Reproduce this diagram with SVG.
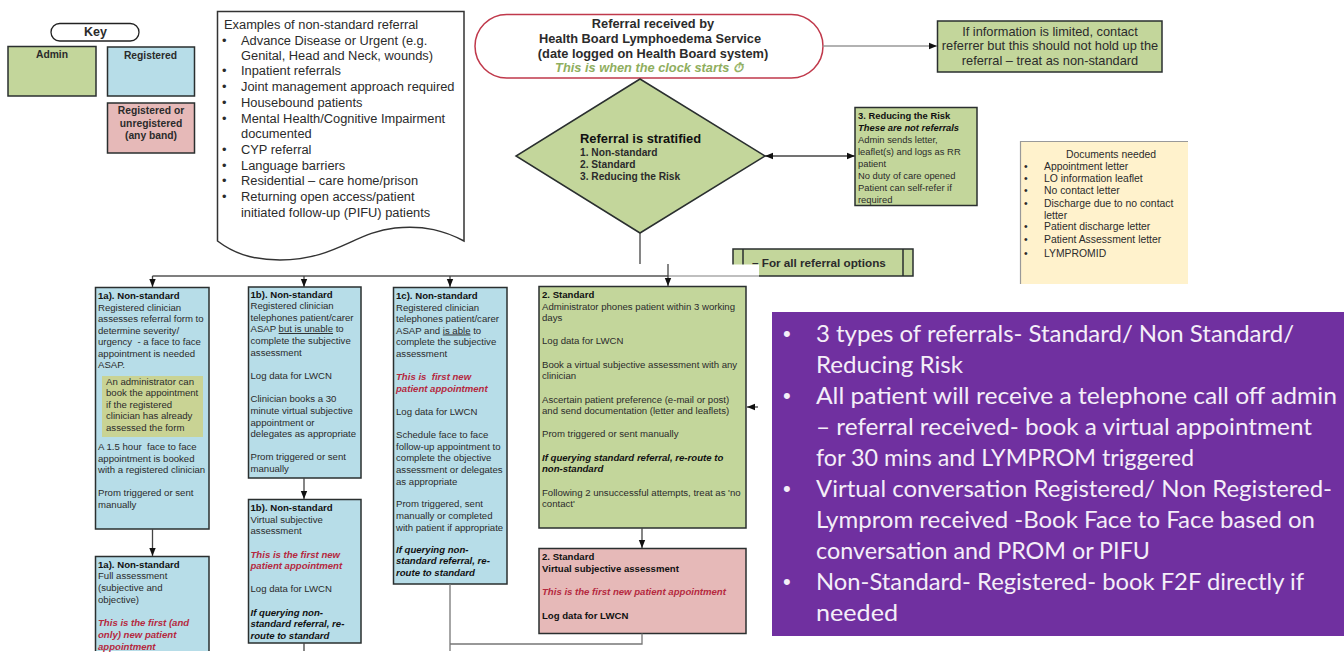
<svg xmlns="http://www.w3.org/2000/svg" width="1344" height="658" viewBox="0 0 1344 658">
<style>
text{font-family:"Liberation Sans",Arial,sans-serif;fill:#2b2b2b;white-space:pre}
.b{font-weight:700}.i{font-style:italic}.c{text-anchor:middle}
.box{stroke:#2a2f2f;stroke-width:1.5}
.gr{fill:#c3d69b}.bl{fill:#b7dde8}.pk{fill:#e6b9b8}
.s{font-size:9.6px}.red{fill:#b5293f;font-weight:700;font-style:italic}
.dk{fill:#111;font-weight:700}.bi{fill:#111;font-weight:700;font-style:italic}
.d{font-size:12.85px}
.k{font-size:10.3px;font-weight:700}
.t{font-size:12.8px;font-weight:700;text-anchor:middle}
.line{fill:none;stroke:#444;stroke-width:1.3}
.u{text-decoration:underline}
.p{font-family:Lato,"Open Sans",sans-serif;font-size:24px;fill:#f4eef8}
.pb{font-family:"Liberation Sans",sans-serif;font-size:22px;fill:#f4eef8}
</style>
<defs>
<marker id="a" markerUnits="userSpaceOnUse" viewBox="0 0 8 8" markerWidth="8" markerHeight="8" refX="8" refY="4" orient="auto-start-reverse"><path d="M0 0.8L8 4L0 7.2Z" fill="#111"/></marker>
</defs>
<rect width="1344" height="658" fill="#fff"/>

<g id="key">
<rect x="51" y="23.500" width="88" height="17.500" rx="8.700" fill="#fff" stroke="#222" stroke-width="1.300"/>
<text class="b c" x="95.500" y="36" font-size="12.500">Key</text>
</g>
<g id="key-admin"><rect class="box gr" x="8" y="46.500" width="88" height="49.500"/><text class="k c" x="52" y="58">Admin</text></g>
<g id="key-registered"><rect class="box bl" x="107.500" y="47" width="87" height="49"/><text class="k c" x="150.500" y="58.500">Registered</text></g>
<g id="key-any"><rect class="box pk" x="107.500" y="103" width="87" height="50"/>
<text class="k c" x="151" y="114">Registered or</text><text class="k c" x="151" y="126.500">unregistered</text><text class="k c" x="151" y="139">(any band)</text></g>

<g id="examples">
<path d="M217.500 11.500H464V241C445 231 425 225 395 228C355 232 335 260 280 260C250 260 232 252 217.500 241Z" fill="#fff" stroke="#333" stroke-width="1.500"/>
<text class="d" x="224" y="28.500">Examples of non-standard referral</text>
<text class="d" x="241" y="45">Advance Disease or Urgent (e.g.</text>
<text class="d" x="241" y="59.500">Genital, Head and Neck, wounds)</text>
<text class="d" x="241" y="75">Inpatient referrals</text>
<text class="d" x="241" y="91">Joint management approach required</text>
<text class="d" x="241" y="107">Housebound patients</text>
<text class="d" x="241" y="123">Mental Health/Cognitive Impairment</text>
<text class="d" x="241" y="137.500">documented</text>
<text class="d" x="241" y="154">CYP referral</text>
<text class="d" x="241" y="169.500">Language barriers</text>
<text class="d" x="241" y="185">Residential – care home/prison</text>
<text class="d" x="241" y="201">Returning open access/patient</text>
<text class="d" x="241" y="217">initiated follow-up (PIFU) patients</text>
<text class="d" x="222" y="45">•</text><text class="d" x="222" y="75">•</text><text class="d" x="222" y="91">•</text><text class="d" x="222" y="107">•</text><text class="d" x="222" y="123">•</text><text class="d" x="222" y="154">•</text><text class="d" x="222" y="169.500">•</text><text class="d" x="222" y="185">•</text><text class="d" x="222" y="201">•</text>
</g>

<g id="received">
<rect x="475" y="14.500" width="348" height="63.500" rx="31.700" fill="#fff" stroke="#c0394b" stroke-width="1.500"/>
<text class="t" x="653" y="28">Referral received by</text>
<text class="t" x="650" y="43">Health Board Lymphoedema Service</text>
<text class="t" x="653" y="58">(date logged on Health Board system)</text>
<text class="t i" x="649" y="72" style="fill:#8fae5e">This is when the clock starts ⏱</text>
</g>

<g id="stratified">
<path d="M640 79L765 156L640 233L516 156Z" fill="#c3d69b" stroke="#2a2f2f" stroke-width="1.500"/>
<text class="b" x="580" y="142.500" font-size="12.900" style="fill:#111">Referral is stratified</text>
<text class="b" x="580" y="155.500" font-size="10.200">1. Non-standard</text>
<text class="b" x="580" y="167.500" font-size="10.200">2. Standard</text>
<text class="b" x="580" y="179.500" font-size="10.200">3. Reducing the Risk</text>
</g>

<g id="limited">
<rect class="box gr" x="937.500" y="21" width="224.500" height="51"/>
<text class="c" x="1050" y="35.500" font-size="12.800">If information is limited, contact</text>
<text class="c" x="1050" y="50" font-size="12.800">referrer but this should not hold up the</text>
<text class="c" x="1050" y="65" font-size="12.800">referral – treat as non-standard</text>
</g>

<g id="reducing">
<rect class="box gr" x="855" y="107.500" width="122" height="98"/>
<g font-size="9.400">
<text x="858" y="118.500" class="dk">3. Reducing the Risk</text>
<text x="858" y="131" class="bi">These are not referrals</text>
<text x="858" y="143">Admin sends letter,</text>
<text x="858" y="155">leaflet(s) and logs as RR</text>
<text x="858" y="167">patient</text>
<text x="858" y="179">No duty of care opened</text>
<text x="858" y="191">Patient can self-refer if</text>
<text x="858" y="203">required</text>
</g></g>

<g id="documents">
<rect x="1020" y="141.500" width="168" height="142.500" fill="#fff2cc"/>
<path d="M1020.500 284V141.500H1188" fill="none" stroke="#999" stroke-width="1.200"/>
<g font-size="10.400">
<text class="c" x="1111" y="158">Documents needed</text>
<text x="1044" y="170">Appointment letter</text>
<text x="1044" y="182">LO information leaflet</text>
<text x="1044" y="194">No contact letter</text>
<text x="1044" y="207">Discharge due to no contact</text>
<text x="1044" y="218.500">letter</text>
<text x="1044" y="230">Patient discharge letter</text>
<text x="1044" y="243">Patient Assessment letter</text>
<text x="1044" y="257">LYMPROMID</text>
<text x="1024" y="170">•</text><text x="1024" y="182">•</text><text x="1024" y="194">•</text><text x="1024" y="207">•</text><text x="1024" y="230">•</text><text x="1024" y="243">•</text><text x="1024" y="257">•</text>
</g></g>

<g id="all-options">
<rect class="box gr" x="733" y="249" width="180" height="27"/>
<path d="M743 249V276M903 249V276" stroke="#2a2f2f" stroke-width="1.500"/>
<rect x="725" y="264.500" width="34" height="14" fill="#fff"/>
<text class="b" x="752" y="266.500" font-size="11.700">– For all referral options</text>
</g>

<g id="n1a">
<rect class="box bl" x="95.500" y="287.500" width="113.500" height="241.500"/>
<rect x="102" y="376" width="101" height="61" fill="#c9d394"/>
<g class="s">
<text x="98" y="299" class="dk">1a). Non-standard</text>
<text x="98" y="310.500">Registered clinician</text>
<text x="98" y="322">assesses referral form to</text>
<text x="98" y="333.500">determine severity/</text>
<text x="98" y="345">urgency  - a face to face</text>
<text x="98" y="356.500">appointment is needed</text>
<text x="98" y="368">ASAP.</text>
<text x="106" y="384.500">An administrator can</text>
<text x="106" y="396">book the appointment</text>
<text x="106" y="407.500">if the registered</text>
<text x="106" y="419">clinician has already</text>
<text x="106" y="431">assessed the form</text>
<text x="98" y="450">A 1.5 hour  face to face</text>
<text x="98" y="461.500">appointment is booked</text>
<text x="98" y="473">with a registered clinician</text>
<text x="98" y="496">Prom triggered or sent</text>
<text x="98" y="507.500">manually</text>
</g></g>

<g id="n1a2">
<path class="box bl" d="M95.500 651V556.500H209V651"/>
<g class="s">
<text x="98" y="567.500" class="dk">1a). Non-standard</text>
<text x="98" y="579">Full assessment</text>
<text x="98" y="591">(subjective and</text>
<text x="98" y="602.500">objective)</text>
<text x="98" y="626" class="red">This is the first (and</text>
<text x="98" y="638" class="red">only) new patient</text>
<text x="98" y="649.500" class="red">appointment</text>
</g></g>

<g id="n1b">
<rect class="box bl" x="248.500" y="287" width="112.500" height="191"/>
<g class="s">
<text x="250.500" y="297.500" class="dk">1b). Non-standard</text>
<text x="250.500" y="309">Registered clinician</text>
<text x="250.500" y="320.500">telephones patient/carer</text>
<text x="250.500" y="332">ASAP <tspan class="u">but is unable</tspan> to</text>
<text x="250.500" y="344">complete the subjective</text>
<text x="250.500" y="356">assessment</text>
<text x="250.500" y="379">Log data for LWCN</text>
<text x="250.500" y="402">Clinician books a 30</text>
<text x="250.500" y="414">minute virtual subjective</text>
<text x="250.500" y="426">appointment or</text>
<text x="250.500" y="437">delegates as appropriate</text>
<text x="250.500" y="460">Prom triggered or sent</text>
<text x="250.500" y="472">manually</text>
</g></g>

<g id="n1b2">
<rect class="box bl" x="248.500" y="499.500" width="112.500" height="143.500"/>
<g class="s">
<text x="250.500" y="511" class="dk">1b). Non-standard</text>
<text x="250.500" y="522.500">Virtual subjective</text>
<text x="250.500" y="534">assessment</text>
<text x="250.500" y="557.500" class="red">This is the first new</text>
<text x="250.500" y="569" class="red">patient appointment</text>
<text x="250.500" y="592">Log data for LWCN</text>
<text x="250.500" y="615.500" class="bi">If querying non-</text>
<text x="250.500" y="627" class="bi">standard referral, re-</text>
<text x="250.500" y="639" class="bi">route to standard</text>
</g></g>

<g id="n1c">
<rect class="box bl" x="393.500" y="287.500" width="113.500" height="296.500"/>
<g class="s">
<text x="396" y="299" class="dk">1c). Non-standard</text>
<text x="396" y="310.500">Registered clinician</text>
<text x="396" y="322">telephones patient/carer</text>
<text x="396" y="333.500">ASAP and <tspan class="u">is able</tspan> to</text>
<text x="396" y="345">complete the subjective</text>
<text x="396" y="357">assessment</text>
<text x="396" y="380" class="red">This is  first new</text>
<text x="396" y="391.500" class="red">patient appointment</text>
<text x="396" y="415">Log data for LWCN</text>
<text x="396" y="438">Schedule face to face</text>
<text x="396" y="449.500">follow-up appointment to</text>
<text x="396" y="461">complete the objective</text>
<text x="396" y="473">assessment or delegates</text>
<text x="396" y="485">as appropriate</text>
<text x="396" y="507">Prom triggered, sent</text>
<text x="396" y="519">manually or completed</text>
<text x="396" y="530.500">with patient if appropriate</text>
<text x="396" y="552.500" class="bi">If querying non-</text>
<text x="396" y="564" class="bi">standard referral, re-</text>
<text x="396" y="575.500" class="bi">route to standard</text>
</g></g>

<g id="n2">
<rect class="box gr" x="539" y="286.500" width="207" height="241.500"/>
<g class="s">
<text x="542" y="297.500" class="dk">2. Standard</text>
<text x="542" y="309.500">Administrator phones patient within 3 working</text>
<text x="542" y="321">days</text>
<text x="542" y="344">Log data for LWCN</text>
<text x="542" y="367.500">Book a virtual subjective assessment with any</text>
<text x="542" y="379">clinician</text>
<text x="542" y="402.500">Ascertain patient preference (e-mail or post)</text>
<text x="542" y="414">and send documentation (letter and leaflets)</text>
<text x="542" y="437">Prom triggered or sent manually</text>
<text x="542" y="460.500" class="bi">If querying standard referral, re-route to</text>
<text x="542" y="472" class="bi">non-standard</text>
<text x="542" y="495.500">Following 2 unsuccessful attempts, treat as 'no</text>
<text x="542" y="507">contact'</text>
</g></g>

<g id="n2b">
<rect class="box pk" x="539" y="548.500" width="207" height="85"/>
<g class="s">
<text x="542" y="559.500" class="dk">2. Standard</text>
<text x="542" y="571.500" class="dk">Virtual subjective assessment</text>
<text x="542" y="595" class="red">This is the first new patient appointment</text>
<text x="542" y="618.500" class="dk">Log data for LWCN</text>
</g></g>

<g id="connectors">
<path d="M823 46H937" fill="none" stroke="#999" stroke-width="1.300" marker-end="url(#a)"/>
<path class="line" d="M765 156H855" marker-start="url(#a)" marker-end="url(#a)"/>
<path class="line" d="M640 233V264"/>
<path d="M668 276H759" fill="none" stroke="#aaa" stroke-width="1.300"/>
<path d="M152.500 276H668" fill="none" stroke="#555" stroke-width="1.500"/>
<path d="M152.500 276V287" class="line" marker-end="url(#a)"/>
<path class="line" d="M304 276V287" marker-end="url(#a)"/>
<path class="line" d="M450 276V287" marker-end="url(#a)"/>
<path class="line" d="M668 264V286" marker-end="url(#a)"/>
<path class="line" d="M152.500 529V556" marker-end="url(#a)"/>
<path class="line" d="M304 478V499" marker-end="url(#a)"/>
<path class="line" d="M304 643V651"/>
<path class="line" d="M642 528V548" marker-end="url(#a)"/>
<path d="M450 584V651M642 633.500V644H450" fill="none" stroke="#777" stroke-width="1.300"/>
<path class="line" d="M758 407H747" marker-end="url(#a)"/>
</g>

<g id="summary">
<rect x="772" y="312" width="572" height="324" fill="#7030a0"/>
<text class="pb" x="783" y="341">•</text>
<text class="p" x="816" y="342" textLength="478" lengthAdjust="spacingAndGlyphs">3 types of referrals- Standard/ Non Standard/</text>
<text class="p" x="816" y="373" textLength="147" lengthAdjust="spacingAndGlyphs">Reducing Risk</text>
<text class="pb" x="783" y="403">•</text>
<text class="p" x="816" y="404" textLength="521" lengthAdjust="spacingAndGlyphs">All patient will receive a telephone call off admin</text>
<text class="p" x="816" y="435" textLength="496" lengthAdjust="spacingAndGlyphs">– referral received- book a virtual appointment</text>
<text class="p" x="816" y="466" textLength="378" lengthAdjust="spacingAndGlyphs">for 30 mins and LYMPROM triggered</text>
<text class="pb" x="783" y="496">•</text>
<text class="p" x="816" y="497" textLength="516" lengthAdjust="spacingAndGlyphs">Virtual conversation Registered/ Non Registered-</text>
<text class="p" x="816" y="528" textLength="499" lengthAdjust="spacingAndGlyphs">Lymprom received -Book Face to Face based on</text>
<text class="p" x="816" y="559" textLength="334" lengthAdjust="spacingAndGlyphs">conversation and PROM or PIFU</text>
<text class="pb" x="783" y="589">•</text>
<text class="p" x="816" y="590" textLength="488" lengthAdjust="spacingAndGlyphs">Non-Standard- Registered- book F2F directly if</text>
<text class="p" x="816" y="621" textLength="82" lengthAdjust="spacingAndGlyphs">needed</text>
</g>
</svg>
